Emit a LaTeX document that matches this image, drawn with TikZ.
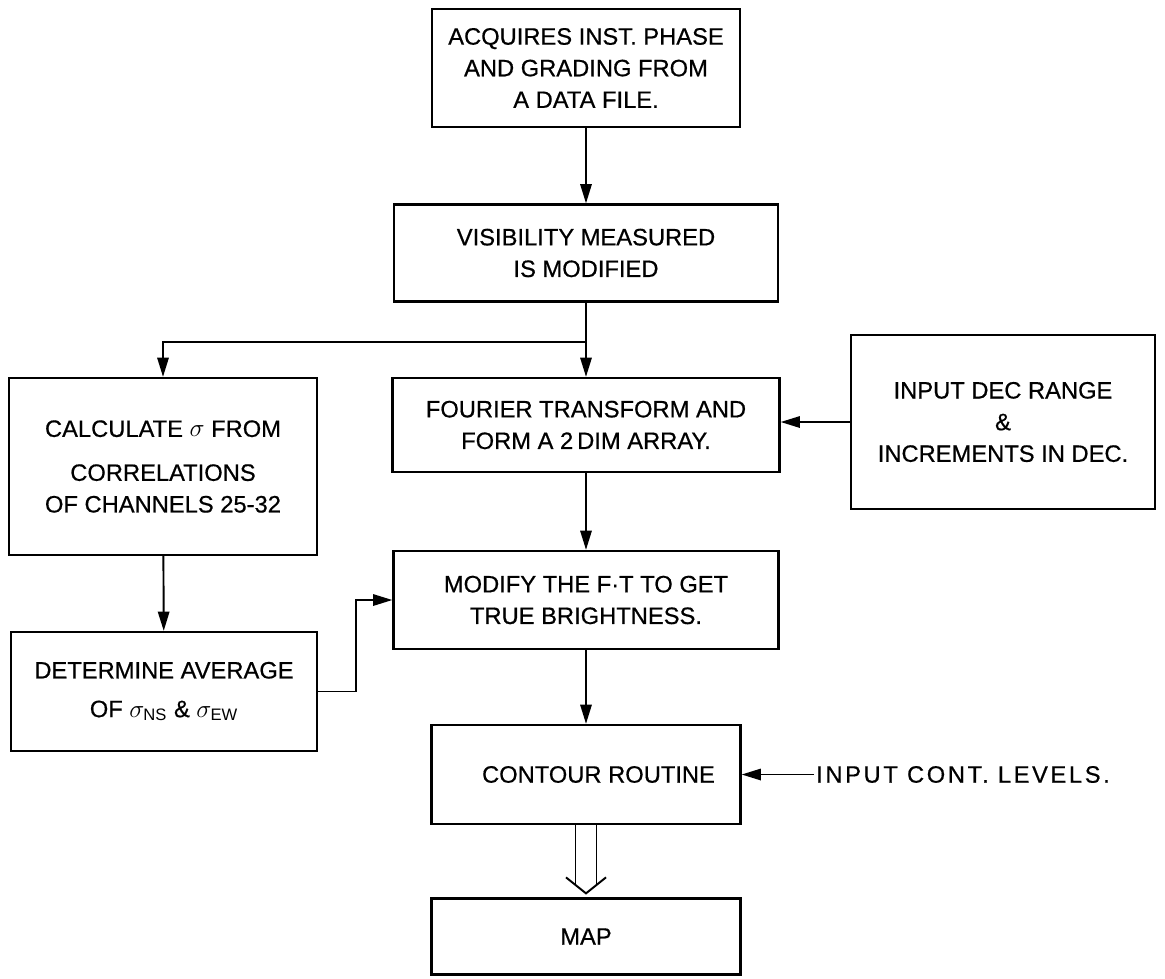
\documentclass[tikz,border=0pt]{standalone}
\usepackage{fontspec}
\setmainfont{Liberation Sans}
\usetikzlibrary{positioning, arrows.meta, calc}

\begin{document}
\begin{tikzpicture}[
  box/.style  = {draw, line width=1.3pt, align=center, inner sep=2pt,
                 font=\fontsize{13.5}{18}\selectfont\addfontfeature{FakeBold=0.6}},
  flow/.style = {-{Triangle[length=11pt,width=6.5pt]}, line width=1.1pt},
  twin/.style = {line width=1.1pt},
  lbl/.style  = {font=\fontsize{13.5}{18}\selectfont\addfontfeature{LetterSpace=11,FakeBold=0.6},
                 inner sep=1pt},
]
\useasboundingbox (0,0) rectangle (23.3,-19.56);

% --- nodes ---------------------------------------------------------------
\node[box, minimum width=6.16cm, minimum height=2.36cm] (acq) at (11.72,-1.36)
     {ACQUIRES INST. PHASE\\AND GRADING FROM\\A DATA FILE.};
\node[box, minimum width=7.68cm, minimum height=1.94cm] (vis) at (11.72,-5.06)
     {VISIBILITY MEASURED\\IS MODIFIED};
\node[box, minimum width=7.74cm, minimum height=1.88cm] (fourier) at (11.72,-8.5)
     {FOURIER TRANSFORM AND\\FORM A 2\,DIM ARRAY.};
\node[box, minimum width=6.08cm, minimum height=3.48cm] (dec) at (20.06,-8.44)
     {INPUT DEC RANGE\\\&\\INCREMENTS IN DEC.};
\node[box, minimum width=6.16cm, minimum height=3.54cm] (calc) at (3.26,-9.33)
     {CALCULATE $\sigma$ FROM\\[7pt]CORRELATIONS\\OF CHANNELS 25-32};
\node[box, minimum width=7.7cm, minimum height=1.96cm] (modify) at (11.72,-12.0)
     {MODIFY THE F·T TO GET\\TRUE BRIGHTNESS.};
\node[box, minimum width=6.12cm, minimum height=2.38cm] (det) at (3.28,-13.83)
     {DETERMINE AVERAGE\\[4pt]OF $\sigma_{\mathrm{NS}}$ \& $\sigma_{\mathrm{EW}}$};
\node[box, minimum width=6.18cm, minimum height=1.98cm] (contour) at (11.72,-15.49)
     {\hspace*{0.5cm}CONTOUR ROUTINE};
\node[lbl, right=1.45cm of contour] (levels) {INPUT CONT. LEVELS.};
\node[box, minimum width=6.18cm, minimum height=1.52cm] (map) at (11.72,-18.73)
     {MAP};

% --- main line -----------------------------------------------------------
\draw[flow] (acq) -- (vis);
\draw[flow] (vis) -- (fourier);
\draw[flow] (fourier) -- (modify);
\draw[flow] (modify) -- (contour);

% --- side branch ---------------------------------------------------------
\coordinate (split) at ($(vis.south)+(0,-0.78)$);
\draw[flow] (split) -| (calc.north);
\draw[flow] (calc) -- (det);
\coordinate (bend) at ($(det.east)+(0.76,0)$);
\draw[flow] (det.east) -- (bend) |- (modify.west);

% --- inputs --------------------------------------------------------------
\draw[flow] (dec.west) -- (dec.west -| fourier.east);
\draw[flow] (levels.west) -- (contour.east);

% --- output --------------------------------------------------------------
\coordinate (tip) at ($(map.north)+(0,0.08)$);
\draw[twin] ($(contour.south)+(-0.21,0)$) -- ($(tip)+(-0.21,0.17)$);
\draw[twin] ($(contour.south)+(0.21,0)$) -- ($(tip)+(0.21,0.17)$);
\draw[twin] ($(tip)+(-0.4,0.32)$) -- (tip) -- ($(tip)+(0.4,0.32)$);

\end{tikzpicture}
\end{document}
